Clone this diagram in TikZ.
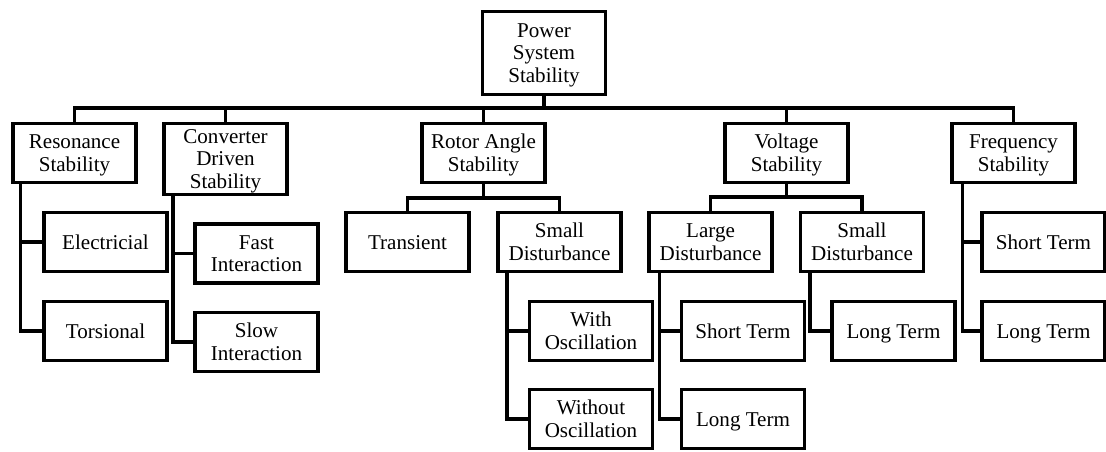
\documentclass[tikz,border=0pt]{standalone}
\usepackage{fontspec}
\setmainfont{Liberation Serif}
\tikzset{
    blk/.style={draw, line width=2.5pt, align=center, inner sep=0pt,
        minimum width=92.3pt, minimum height=44.3pt,
        font=\fontsize{15.8}{17}\selectfont, text depth=0pt,
        execute at begin node={\rule{0pt}{10.6pt}}},
    wire/.style={line width=2.5pt}
}

\begin{document}
\begin{tikzpicture}[x=0.75pt, y=-0.75pt]
            \useasboundingbox (0,0) rectangle (1106,451);
            \node[blk, minimum height=62.3pt] (pss) at (544,53) {Power\\System\\Stability};

            \node[blk] (res) at (74.5,153) {Resonance\\Stability};
            \node[blk, minimum height=53.3pt] (conv) at (225.5,159) {Converter\\Driven\\Stability};
            \node[blk] (rotor) at (483.5,153) {Rotor Angle\\Stability};
            \node[blk] (volt) at (786.5,153) {Voltage\\Stability};
            \node[blk] (freq) at (1013.5,153) {Frequency\\Stability};

            \node[blk] (elec) at (105.5,242) {Electricial};
            \node[blk] (tors) at (105.5,331) {Torsional};
            \node[blk] (fast) at (256.5,253.5) {Fast\\Interaction};
            \node[blk] (slow) at (256.5,342) {Slow\\Interaction};
            \node[blk] (trans) at (407.5,242) {Transient};
            \node[blk] (rsd) at (559.5,242) {Small\\Disturbance};
            \node[blk] (wosc) at (591,331) {With\\Oscillation};
            \node[blk] (woosc) at (591,419) {Without\\Oscillation};
            \node[blk] (lgd) at (710.5,242) {Large\\Disturbance};
            \node[blk] (lgdst) at (743,331) {Short Term};
            \node[blk] (lgdlt) at (743,419) {Long Term};
            \node[blk] (vsd) at (862,242) {Small\\Disturbance};
            \node[blk] (vsdlt) at (893.5,331) {Long Term};
            \node[blk] (fst) at (1043.5,242) {Short Term};
            \node[blk] (flt) at (1043.5,331) {Long Term};

            \coordinate (bus) at (544,108);
            \draw[wire] (pss.south) -- (bus);
            \draw[wire] (res.north) |- (bus);
            \draw[wire] (freq.north) |- (bus);
            \draw[wire] (conv.north) -- (conv.north |- bus);
            \draw[wire] (rotor.north) -- (rotor.north |- bus);
            \draw[wire] (volt.north) -- (volt.north |- bus);

            \coordinate (rbus) at (483.5,198);
            \draw[wire] (rotor.south) -- (rbus);
            \draw[wire] (trans.north) |- (rbus);
            \draw[wire] (rsd.north) |- (rbus);

            \coordinate (vbus) at (786.5,197);
            \draw[wire] (volt.south) -- (vbus);
            \draw[wire] (lgd.north) |- (vbus);
            \draw[wire] (vsd.north) |- (vbus);

            \draw[wire] ([xshift=7pt]res.south west) |- (elec.west);
            \draw[wire] ([xshift=7pt]res.south west) |- (tors.west);
            \draw[wire] ([xshift=8pt]conv.south west) |- (fast.west);
            \draw[wire] ([xshift=8pt]conv.south west) |- (slow.west);
            \draw[wire] ([xshift=8pt]rsd.south west) |- (wosc.west);
            \draw[wire] ([xshift=8pt]rsd.south west) |- (woosc.west);
            \draw[wire] ([xshift=9pt]lgd.south west) |- (lgdst.west);
            \draw[wire] ([xshift=9pt]lgd.south west) |- (lgdlt.west);
            \draw[wire] ([xshift=8.5pt]vsd.south west) |- (vsdlt.west);
            \draw[wire] ([xshift=9pt]freq.south west) |- (fst.west);
            \draw[wire] ([xshift=9pt]freq.south west) |- (flt.west);
        \end{tikzpicture}
\end{document}
